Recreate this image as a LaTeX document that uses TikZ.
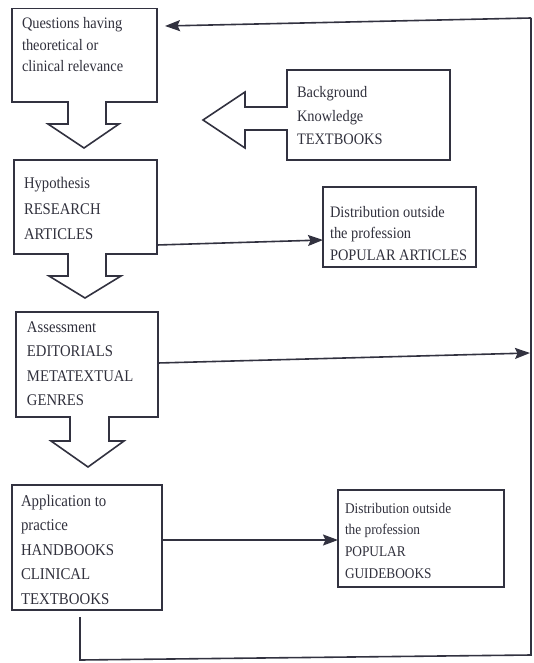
\documentclass[tikz,border=0pt]{standalone}
\usepackage{fontspec}
\setmainfont{Liberation Serif}[FakeStretch=0.9]
\usetikzlibrary{arrows.meta,calc}

\definecolor{ink}{RGB}{50,50,64}
\definecolor{txtgrey}{RGB}{48,48,60}

\tikzset{
  card/.style={draw=ink, line width=1.6pt, anchor=north west, inner sep=0pt, outer sep=0pt},
  txt/.style={anchor=base west, inner sep=0pt, outer sep=0pt, text=txtgrey},
  conn/.style={draw=ink, line width=1.6pt, -{Stealth[length=15pt,width=11pt,inset=2.5pt]}},
  loopline/.style={draw=ink, line width=1.6pt},
  hollow/.style={draw=ink, line width=1.6pt, fill=white, line join=miter}
}

% multi-line label: font size, line spacing, lines
\newcommand{\lbl}[3]{\parbox[t]{170pt}{\fontsize{#1}{#2}\selectfont\raggedright #3}}

\begin{document}
\begin{tikzpicture}[x=1pt,y=-1pt]
\useasboundingbox (0,0) rectangle (534,663);

% ---- boxes ----
\node[card, minimum width=145pt, minimum height=93.5pt] (q) at (12,8.5) {};
\node[txt] (qt) at (22,29) {\lbl{16}{21.5}{Questions having\\ theoretical or\\ clinical relevance}};

\node[card, minimum width=163pt, minimum height=90pt] (bg) at (287,70) {};
\node[txt] (bgt) at (297,98) {\lbl{16}{23.5}{Background\\ Knowledge\\ TEXTBOOKS}};

\node[card, minimum width=143pt, minimum height=94pt] (hyp) at (14,160) {};
\node[txt] (hypt) at (24,189) {\lbl{16.3}{25.5}{Hypothesis\\ RESEARCH\\ ARTICLES}};

\node[card, minimum width=153pt, minimum height=80pt] (pop1) at (323,187) {};
\node[txt] (pop1t) at (330,217) {\lbl{16}{21.5}{Distribution outside\\ the profession\\ POPULAR ARTICLES}};

\node[card, minimum width=142pt, minimum height=105pt] (ass) at (16,312) {};
\node[txt] (asst) at (27,332) {\lbl{16.3}{24.5}{Assessment\\ EDITORIALS\\ METATEXTUAL\\ GENRES}};

\node[card, minimum width=150pt, minimum height=125pt] (app) at (12,485) {};
\node[txt] (appt) at (21,506) {\lbl{16.5}{24.5}{Application to\\ practice\\ HANDBOOKS\\ CLINICAL\\ TEXTBOOKS}};

\node[card, minimum width=166pt, minimum height=97pt] (pop2) at (338,490) {};
\node[txt] (pop2t) at (345,513) {\lbl{14.8}{21.7}{Distribution outside\\ the profession\\ POPULAR\\ GUIDEBOOKS}};

% ---- hollow block arrows (open where they leave a box) ----
\draw[hollow] (68,101.2) -- (68,124) -- (48,124) -- (84,148) -- (119,124) -- (106,124) -- (106,101.2);
\draw[hollow] (68,253.2) -- (68,276) -- (49,276) -- (85,298) -- (121,276) -- (106,276) -- (106,253.2);
\draw[hollow] (70,416.2) -- (70,441) -- (51,441) -- (88,467) -- (124,441) -- (109,441) -- (109,416.2);
\draw[hollow] (287.8,107) -- (245,107) -- (245,92) -- (203,120) -- (245,148) -- (245,130) -- (287.8,130);

% ---- connectors ----
\draw[conn] ([yshift=-38pt]hyp.east) -- ([yshift=-13pt]pop1.west);
\coordinate (outR) at (530,353);
\draw[conn] ([yshift=1.5pt]ass.east) -- (outR);
\draw[conn] ([yshift=7.5pt]app.east) -- ([yshift=-1.5pt]pop2.west);

% feedback loop back to the first box
\coordinate (l1) at (80,617);
\coordinate (l2) at (80,660);
\coordinate (l3) at (531,655);
\coordinate (l4) at (531,18);
\draw[loopline] (l1) -- (l2) -- (l3) -- (l4);
\draw[conn] (l4) -- ([xshift=8pt,yshift=-17.5pt]q.north east);
\end{tikzpicture}
\end{document}
